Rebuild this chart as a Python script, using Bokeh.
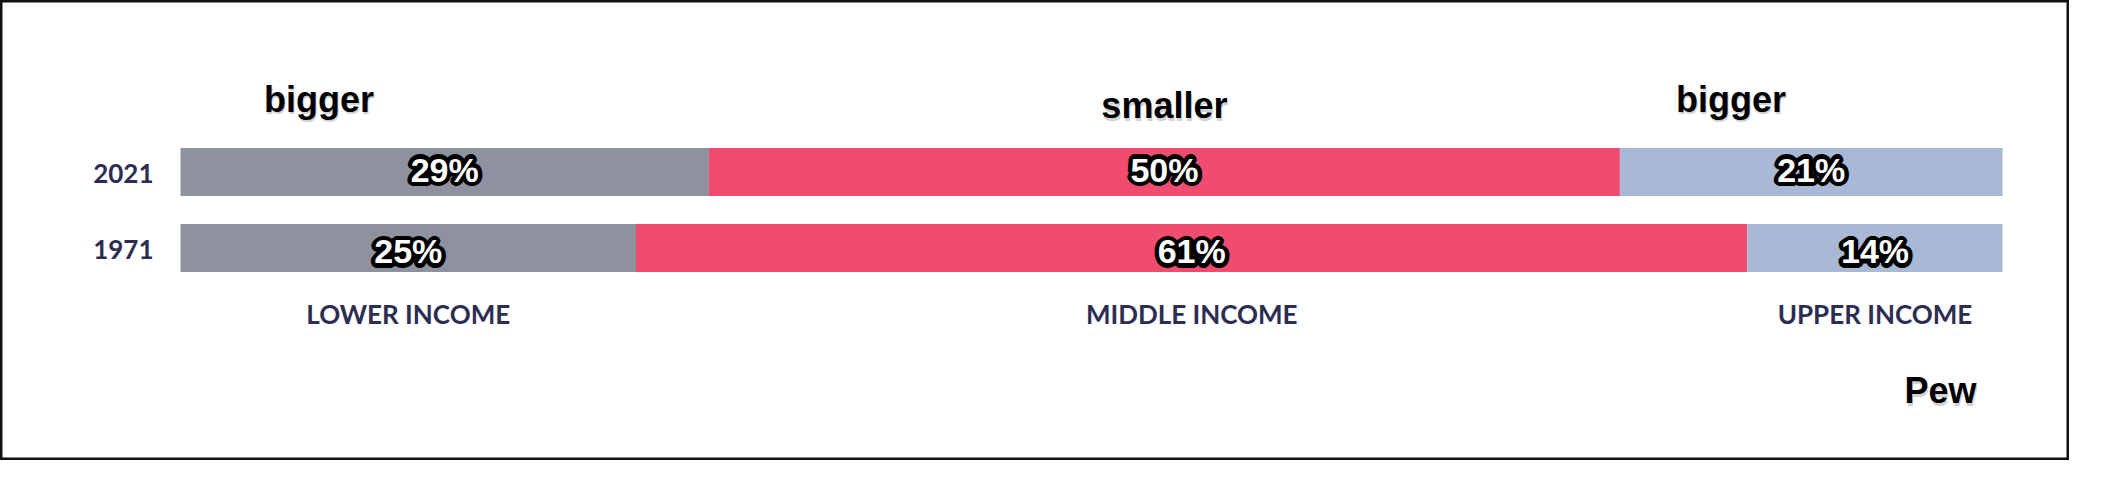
import numpy as np
from bokeh.plotting import figure
from bokeh.models import Range1d, ColumnDataSource, Text
from bokeh.core.properties import value
from bokeh.embed import file_html
from bokeh.resources import INLINE

# ---- data ----
years = ["2021", "1971"]
row_pos = [1, 0]
categories = ["LOWER INCOME", "MIDDLE INCOME", "UPPER INCOME"]
lower = [29, 25]
middle = [50, 61]
upper = [21, 14]
colors = ["#8e929e", "#f04c6f", "#a9b8d4"]
notes = ["bigger", "smaller", "bigger"]
note_x = [7.6, 54.0, 85.1]
note_y = [1.955, 1.875, 1.955]
source_note = "Pew"

W, H = 2069, 460
p = figure(width=W, height=H, output_backend="svg", toolbar_location=None,
           x_axis_location=None, y_axis_location=None, min_border=0,
           x_range=Range1d(-9.879, 103.675), y_range=Range1d(-2.796, 3.257))
p.grid.visible = False
p.outline_line_color = "#111111"
p.outline_line_width = 4
p.background_fill_color = "white"
p.border_fill_color = "white"

series = [lower, middle, upper]
left = np.zeros(2)
bar_src = {"y": [], "left": [], "right": [], "color": [], "label": [], "cx": []}
for s, col in zip(series, colors):
    arr = np.array(s, dtype=float)
    for i in range(2):
        bar_src["y"].append(row_pos[i])
        bar_src["left"].append(left[i])
        bar_src["right"].append(left[i] + arr[i])
        bar_src["color"].append(col)
        bar_src["label"].append(f"{s[i]}%")
        bar_src["cx"].append(left[i] + arr[i] / 2)
    left = left + arr

src = ColumnDataSource(bar_src)
p.hbar(y="y", left="left", right="right", height=0.632, fill_color="color",
       line_color=None, source=src)

# percent labels: white text with thick black outline
row_shift = {1: 0.03, 0: -0.045}
lab = ColumnDataSource(dict(x=bar_src["cx"],
                            y=[v + row_shift[v] for v in bar_src["y"]],
                            t=bar_src["label"]))
has_outline = "text_outline_color" in Text.properties()
pct_font = dict(text_font=value("Liberation Sans"), text_font_style="bold",
                text_font_size="34px", text_align="center", text_baseline="alphabetic")
r = 2.5
offs = [(r, 0), (-r, 0), (0, r), (0, -r), (r * .7, r * .7), (-r * .7, r * .7),
        (r * .7, -r * .7), (-r * .7, -r * .7)]
for dx, dy in offs:
    extra = {"text_outline_color": "black"} if has_outline else {}
    p.text(x="x", y="y", text="t", source=lab, x_offset=dx, y_offset=dy,
           text_color="black", **pct_font, **extra)
p.text(x="x", y="y", text="t", source=lab, text_color="white", **pct_font)

# year labels
p.text(x=[-1.48] * 2, y=[v - 0.019 for v in row_pos], text=years,
       text_font=value("Lato"), text_font_style="bold", text_font_size="26px",
       text_color="#2c2d52", text_align="right", text_baseline="alphabetic")

# category labels centred on 1971 segments
i71 = years.index("1971")
v71 = np.array([lower[i71], middle[i71], upper[i71]], dtype=float)
cat_x = list(np.cumsum(v71) - v71 / 2)
p.text(x=cat_x, y=[row_pos[i71] - 0.862] * 3, text=categories,
       text_font=value("Lato"), text_font_style="bold", text_font_size="26px",
       text_color="#2c2d52", text_align="center", text_baseline="alphabetic")

# annotations (black with faint shadow)
ann_font = dict(text_font=value("Liberation Sans"), text_font_style="bold",
                text_font_size="36px", text_align="center", text_baseline="alphabetic")
ax = note_x + [96.6]
ay = note_y + [-1.88]
at = notes + [source_note]
p.text(x=ax, y=ay, text=at, x_offset=1, y_offset=2.5, text_color="#9a9a9a",
       text_alpha=0.45, **ann_font)
p.text(x=ax, y=ay, text=at, text_color="black", **ann_font)

open("out.html", "w").write(file_html(p, INLINE))
